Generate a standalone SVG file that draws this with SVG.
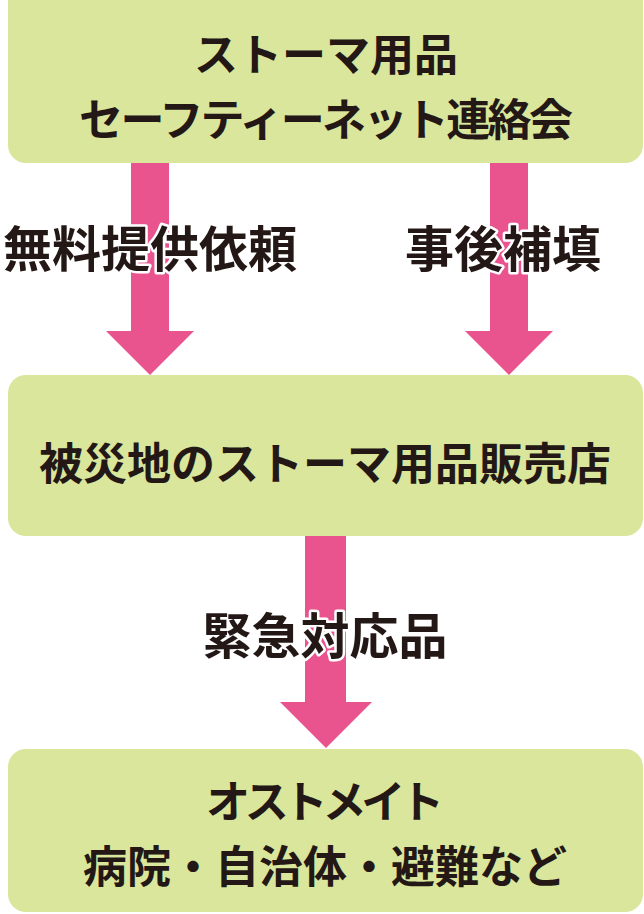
<svg xmlns="http://www.w3.org/2000/svg" width="644" height="914" viewBox="0 0 644 914">
<style>
.box{fill:#d9e69b;}
.arrow{fill:#e9538e;}
.t{font-family:"Noto Sans CJK JP","Noto Sans CJK SC",sans-serif;font-weight:700;fill:#231815;text-anchor:middle;dominant-baseline:central;}
.n{font-size:44px;}
.lbl{font-size:49px;stroke:#ffffff;stroke-width:5px;stroke-linejoin:round;paint-order:stroke;}
</style>
<rect width="644" height="914" fill="#ffffff"/>
<g id="connectors">
<g id="c1"><polygon class="arrow" points="131,160 169,160 169,331 194,331 150,375 106,331 131,331"/></g>
<g id="c2"><polygon class="arrow" points="490,160 528,160 528,331 553,331 509,375 465,331 490,331"/></g>
<g id="c3"><polygon class="arrow" points="305,533 346,533 346,702 372,702 326,748 280,702 305,702"/></g>
<text class="t lbl" x="150" y="245">無料提供依頼</text>
<text class="t lbl" x="503" y="245">事後補填</text>
<text class="t lbl" x="325" y="632">緊急対応品</text>
</g>
<g id="node1">
<rect class="box" x="8" y="-20" width="635" height="183" rx="18"/>
<text class="t n" x="326" y="52">ストーマ用品</text>
<text class="t n" x="326" y="117" textLength="494" lengthAdjust="spacing">セーフティーネット連絡会</text>
</g>
<g id="node2">
<rect class="box" x="8" y="375" width="635" height="161" rx="18"/>
<text class="t n" x="325" y="461">被災地のストーマ用品販売店</text>
</g>
<g id="node3">
<rect class="box" x="8" y="749" width="635" height="163" rx="18"/>
<text class="t n" x="325" y="799" textLength="238" lengthAdjust="spacing">オストメイト</text>
<text class="t n" x="325" y="864">病院・自治体・避難など</text>
</g>
</svg>
